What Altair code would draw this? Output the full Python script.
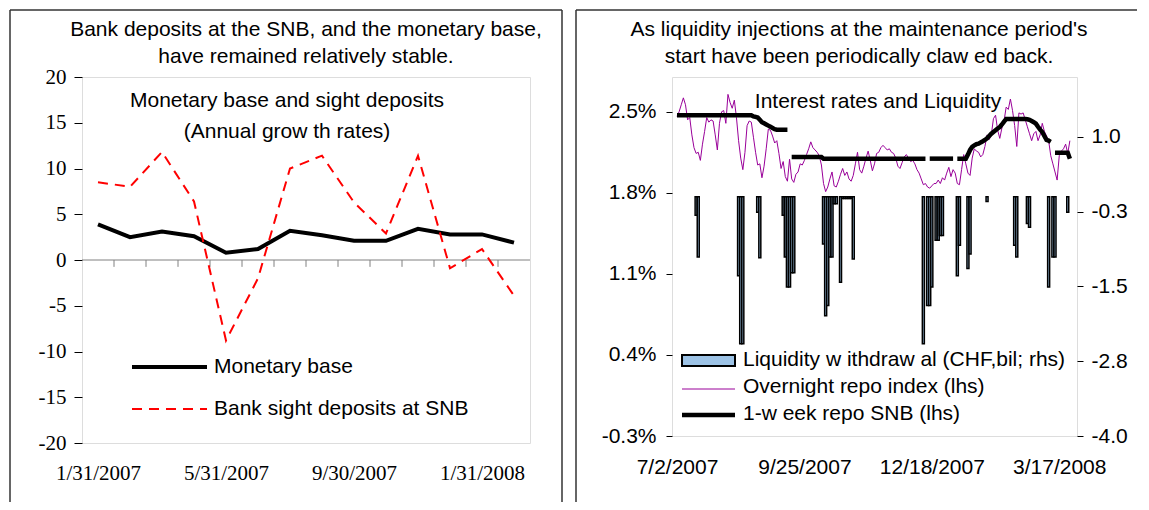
import altair as alt
import pandas as pd

SANS = "Liberation Sans"
SERIF = "Liberation Serif"

# ---------------- Left panel data ----------------
left_dates = ["1/31/2007", "2/28/2007", "3/31/2007", "4/30/2007", "5/31/2007", "6/30/2007",
              "7/31/2007", "8/31/2007", "9/30/2007", "10/31/2007", "11/30/2007", "12/31/2007",
              "1/31/2008", "2/29/2008"]
monetary_base = [3.9, 2.5, 3.1, 2.6, 0.8, 1.2, 3.2, 2.7, 2.1, 2.1, 3.4, 2.8, 2.8, 1.9]
sight_deposits = [8.5, 8.0, 11.8, 6.4, -8.8, -2.0, 10.0, 11.4, 6.3, 2.9, 11.4, -0.9, 1.2, -3.9]
left_y_ticks = [-20, -15, -10, -5, 0, 5, 10, 15, 20]
left_y_labels = ["-20", "-15", "-10", "-5", "0", "5", "10", "15", "20"]
left_x_label_idx = [0, 4, 8, 12]
left_title = ["Bank deposits at the SNB, and the monetary base,", "have remained relatively stable."]

# ---------------- Right panel data ----------------
right_x_labels = ["7/2/2007", "9/25/2007", "12/18/2007", "3/17/2008"]
right_x_label_idx = [0, 60, 120, 180]
overnight_repo = [
    2.46, 2.50, 2.56, 2.62, 2.56, 2.43, 2.45, 2.30, 2.19, 2.14,
    2.15, 2.08, 2.22, 2.33, 2.45, 2.41, 2.43, 2.42, 2.30, 2.17,
    2.40, 2.50, 2.51, 2.40, 2.65, 2.58, 2.53, 2.60, 2.45, 2.25,
    2.10, 2.00, 2.15, 2.38, 2.42, 2.41, 2.28, 2.15, 2.04, 2.05,
    1.93, 2.03, 2.18, 2.35, 2.34, 2.29, 2.23, 2.25, 2.14, 2.01,
    2.07, 1.94, 1.90, 2.09, 1.92, 1.89, 1.96, 1.98, 2.05, 2.04,
    2.08, 2.13, 2.18, 2.24, 2.19, 2.17, 2.15, 2.12, 2.04, 1.88,
    1.81, 1.85, 1.92, 1.98, 1.86, 1.85, 1.90, 1.96, 2.01, 1.95,
    1.98, 1.92, 1.90, 1.95, 2.05, 2.15, 2.00, 1.97, 2.03, 2.10,
    2.16, 2.08, 1.99, 2.05, 2.14, 2.15, 2.19, 2.21, 2.19, 2.17,
    2.18, 2.15, 2.14, 2.10, 2.03, 2.01, 2.06, 2.11, 2.13, 2.10,
    2.07, 2.08, 2.05, 2.00, 1.97, 1.92, 1.87, 1.88, 1.85, 1.84,
    1.86, 1.88, 1.88, 1.91, 1.88, 1.93, 1.91, 1.97, 2.02, 1.94,
    2.00, 1.97, 1.88, 1.87, 2.00, 2.13, 2.05, 1.97, 1.95, 2.10,
    2.18, 2.16, 2.15, 2.11, 2.13, 2.20, 2.30, 2.26, 2.30, 2.44,
    2.47, 2.34, 2.27, 2.36, 2.42, 2.54, 2.52, 2.61, 2.51, 2.38,
    2.20, 2.49, 2.48, 2.49, 2.43, 2.37, 2.31, 2.25, 2.31, 2.33,
    2.25, 2.30, 2.40, 2.33, 2.29, 2.25, 2.12, 2.05, 1.98, 1.91,
    2.12, 2.16, 2.18, 2.22, 2.14, 2.25,
]
week_repo = [
    2.47, 2.47, 2.47, 2.47, 2.47, 2.47, 2.47, 2.47, 2.47, 2.47,
    2.47, 2.47, 2.47, 2.47, 2.47, 2.47, 2.47, 2.47, 2.47, 2.47,
    2.47, 2.47, 2.47, 2.47, 2.47, 2.47, 2.47, 2.47, 2.47, 2.47,
    2.47, 2.47, 2.47, 2.47, 2.47, 2.47, 2.46, 2.455, 2.45, 2.43,
    2.41, 2.40, 2.39, 2.38, 2.37, 2.36, 2.35, 2.345, 2.345, 2.345,
    2.345, 2.345, 2.345, None, 2.11, 2.11, 2.11, 2.11, 2.11, 2.11,
    2.11, 2.11, 2.11, 2.11, 2.11, 2.11, 2.11, 2.11, 2.11, 2.095,
    2.095, 2.095, 2.095, 2.095, 2.095, 2.095, 2.095, 2.095, 2.095, 2.095,
    2.095, 2.095, 2.095, 2.095, 2.095, 2.095, 2.095, 2.095, 2.095, 2.095,
    2.095, 2.095, 2.095, 2.095, 2.095, 2.095, 2.095, 2.095, 2.095, 2.095,
    2.095, 2.095, 2.095, 2.095, 2.095, 2.095, 2.095, 2.095, 2.095, 2.095,
    2.095, 2.095, 2.095, 2.095, 2.095, 2.095, 2.095, 2.095, None, 2.095,
    2.095, 2.095, 2.095, 2.095, 2.095, 2.095, 2.095, 2.095, 2.095, 2.095,
    2.095, None, 2.095, 2.095, 2.095, 2.095, 2.095, 2.13, 2.17, 2.196,
    2.21, 2.22, 2.224, 2.235, 2.245, 2.256, 2.27, 2.29, 2.31, 2.325,
    2.34, 2.355, 2.368, 2.39, 2.415, 2.437, 2.437, 2.437, 2.437, 2.437,
    2.437, 2.437, 2.437, 2.437, 2.437, 2.435, 2.43, 2.42, 2.41, 2.397,
    2.37, 2.345, 2.325, 2.29, 2.256, 2.25, 2.24, None, 2.146, 2.146,
    2.146, 2.146, 2.146, 2.146, 2.146, 2.094,
]
withdraw_idx = [9, 10, 29, 30, 31, 38, 39, 50, 51, 52, 53, 54, 55,
                69, 70, 71, 72, 73, 74, 75, 77, 78, 79, 80, 81, 82, 83,
                116, 118, 119, 120, 122, 123, 124, 125, 132, 133, 137, 138,
                146, 159, 160, 165, 166, 175, 177, 178, 184]
withdraw_val = [-0.31, -1.01, -1.32, -2.46, -2.46, -0.26, -1.02, -0.31, -1.01, -1.51, -1.51, -1.27, -1.27,
                -0.79, -1.99, -1.82, -1.01, -1.01, -0.12, -0.12, -1.43, -0.03, -0.03, -0.03, -0.03, -0.03, -1.04,
                -2.46, -1.82, -1.82, -1.51, -0.73, -0.73, -0.65, -0.65, -1.32, -0.81, -1.20, -0.96,
                -0.08, -0.81, -1.01, -0.45, -0.51, -1.51, -1.01, -1.01, -0.26]
lhs_ticks = [-0.3, 0.4, 1.1, 1.8, 2.5]
lhs_labels = ["-0.3%", "0.4%", "1.1%", "1.8%", "2.5%"]
rhs_ticks = [-4.0, -2.75, -1.5, -0.25, 1.0]
rhs_labels = ["-4.0", "-2.8", "-1.5", "-0.3", "1.0"]
right_title = ["As liquidity injections at the maintenance period's",
               "start have been periodically claw ed back."]


def label_expr(vals, labels):
    parts = [f"abs(datum.value - ({v})) < 0.001 ? '{l}' : " for v, l in zip(vals, labels)]
    return "".join(parts) + "''"


one = pd.DataFrame({"a": [0]})


def vrule(x, y1, y2, color="#333333", w=1.5):
    return alt.Chart(one).mark_rule(color=color, strokeWidth=w).encode(
        x=alt.value(x), y=alt.value(y1), y2=alt.value(y2))


def hrule(x1, x2, y, color="#333333", w=1.5, dash=None):
    kw = dict(color=color, strokeWidth=w)
    if dash:
        kw["strokeDash"] = dash
    return alt.Chart(one).mark_rule(**kw).encode(
        x=alt.value(x1), x2=alt.value(x2), y=alt.value(y))


def label(x, y, txt, align="left", size=21):
    return alt.Chart(one).mark_text(align=align, baseline="middle", font=SANS,
                                    fontSize=size, color="black", text=txt).encode(
        x=alt.value(x), y=alt.value(y))


# ---------------- Left chart ----------------
n_left = len(left_dates)
df_mb = pd.DataFrame({"i": list(range(n_left)), "v": monetary_base, "d": left_dates})
df_sd = pd.DataFrame({"i": list(range(n_left)), "v": sight_deposits, "d": left_dates})

xl = alt.Scale(domain=[-0.5, n_left - 0.5], nice=False, zero=False)
yl = alt.Scale(domain=[-20, 20], nice=False, zero=False)
xl_axis = alt.Axis(values=left_x_label_idx,
                   labelExpr=label_expr(left_x_label_idx, [left_dates[k] for k in left_x_label_idx]),
                   ticks=False, domain=False, grid=False, labelFont=SERIF, labelFontSize=21,
                   labelPadding=19, labelColor="black", title=None, labelFlush=False,
                   labelOverlap=False)
yl_axis = alt.Axis(values=left_y_ticks, labelExpr=label_expr(left_y_ticks, left_y_labels),
                   tickSize=8, tickColor="black", tickWidth=1, domain=False, grid=False,
                   labelFont=SERIF, labelFontSize=21, labelPadding=8, title=None,
                   labelColor="black")

zero_line = alt.Chart(pd.DataFrame({"z": [0]})).mark_rule(color="#808080", strokeWidth=1).encode(
    y=alt.Y("z:Q", scale=yl))
bounds = pd.DataFrame({"pos": [k + 0.5 for k in range(n_left - 1)], "y0": [0] * (n_left - 1),
                       "y1": [-0.75] * (n_left - 1)})
zero_ticks = alt.Chart(bounds).mark_rule(color="#808080", strokeWidth=1).encode(
    x=alt.X("pos:Q", scale=xl), y=alt.Y("y0:Q", scale=yl), y2="y1:Q")

mb_line = alt.Chart(df_mb).mark_line(color="black", strokeWidth=4).encode(
    x=alt.X("i:Q", scale=xl, axis=xl_axis), y=alt.Y("v:Q", scale=yl, axis=yl_axis))
sd_line = alt.Chart(df_sd).mark_line(color="red", strokeWidth=2, strokeDash=[10, 7]).encode(
    x=alt.X("i:Q", scale=xl, axis=xl_axis), y=alt.Y("v:Q", scale=yl, axis=yl_axis))

left = alt.layer(
    zero_line, zero_ticks, mb_line, sd_line,
    label(224, -47, left_title[0], align="center"),
    label(224, -20, left_title[1], align="center"),
    label(205, 24, "Monetary base and sight deposits", align="center"),
    label(205, 55, "(Annual grow th rates)", align="center"),
    hrule(50, 125, 290, color="black", w=4),
    label(132, 290, "Monetary base"),
    hrule(50, 125, 332, color="red", w=2, dash=[10, 7]),
    label(132, 332, "Bank sight deposits at SNB"),
    # panel frame
    vrule(-72, -67, 425), vrule(480, -67, 425), hrule(-72, 480, -67),
).properties(width=448, height=366)

# ---------------- Right chart ----------------
n_right = len(overnight_repo)
xr = alt.Scale(domain=[0, n_right], nice=False, zero=False)
ylhs = alt.Scale(domain=[-0.3, 2.8], nice=False, zero=False)
yrhs = alt.Scale(domain=[-4, 2], nice=False, zero=False)

xr_axis = alt.Axis(values=right_x_label_idx, labelExpr=label_expr(right_x_label_idx, right_x_labels),
                   ticks=False, domain=False, grid=False, labelFont=SANS, labelFontSize=21,
                   labelPadding=20, labelColor="black", title=None, labelFlush=False,
                   labelOverlap=False)
lhs_axis = alt.Axis(orient="left", values=lhs_ticks, labelExpr=label_expr(lhs_ticks, lhs_labels),
                    tickSize=6, tickColor="black", domain=False, grid=False, labelFont=SANS,
                    labelFontSize=21, labelPadding=10, title=None, labelColor="black")
rhs_axis = alt.Axis(orient="right", values=rhs_ticks, labelExpr=label_expr(rhs_ticks, rhs_labels),
                    tickSize=6, tickColor="black", domain=False, grid=False, labelFont=SANS,
                    labelFontSize=21, labelPadding=8, title=None, labelColor="black")

df_bar = pd.DataFrame({"i": withdraw_idx, "v": withdraw_val, "base": [0] * len(withdraw_idx)})
bars = alt.Chart(df_bar).mark_bar(width=2.0, fill="#9DC3E6", stroke="black", strokeWidth=1.5).encode(
    x=alt.X("i:Q", scale=xr, axis=xr_axis),
    y=alt.Y("v:Q", scale=yrhs, axis=rhs_axis),
    y2="base:Q",
)

df_on = pd.DataFrame({"i": list(range(n_right)), "v": overnight_repo})
on_line = alt.Chart(df_on).mark_line(color="#990099", strokeWidth=1).encode(
    x=alt.X("i:Q", scale=xr, axis=xr_axis), y=alt.Y("v:Q", scale=ylhs, axis=lhs_axis))

rows = []
seg = 0
for k, val in enumerate(week_repo):
    if val is None:
        seg += 1
        continue
    rows.append({"i": k, "v": val, "seg": seg})
df_wk = pd.DataFrame(rows)
wk_line = alt.Chart(df_wk).mark_line(color="black", strokeWidth=4.5).encode(
    x=alt.X("i:Q", scale=xr, axis=xr_axis), y=alt.Y("v:Q", scale=ylhs, axis=lhs_axis),
    detail="seg:N")

lines = alt.layer(on_line, wk_line)

legend_box = alt.Chart(one).mark_rect(fill="#9DC3E6", stroke="black", strokeWidth=2).encode(
    x=alt.value(10), x2=alt.value(63), y=alt.value(278), y2=alt.value(289))

right = alt.layer(
    bars, lines,
    label(187, -47, right_title[0], align="center"),
    label(187, -20, right_title[1], align="center"),
    label(206, 25, "Interest rates and Liquidity", align="center"),
    legend_box,
    label(71, 283, "Liquidity w ithdraw al (CHF,bil; rhs)"),
    hrule(10, 63, 312, color="#990099", w=1),
    label(71, 310, "Overnight repo index (lhs)"),
    hrule(10, 63, 338, color="black", w=4.5),
    label(71, 337, "1-w eek repo SNB (lhs)"),
    vrule(-96, -67, 425), hrule(-96, 465, -67),
).resolve_scale(y="independent").properties(width=405, height=359)

chart = alt.hconcat(left, right, spacing=10, padding=0).configure_view(
    stroke="black", strokeWidth=2
).configure(background="white")

chart.save("out.html", embed_options={"renderer": "svg", "actions": False})
